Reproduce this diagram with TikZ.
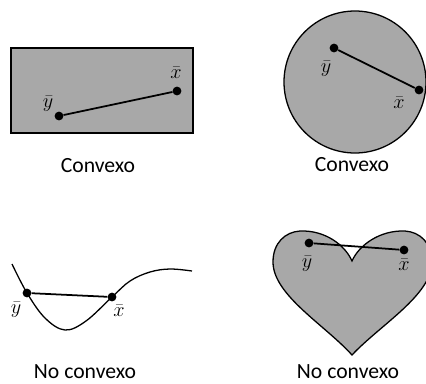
\documentclass[tikz,border=0pt]{standalone}
\usepackage{fontspec}
\setsansfont{Carlito}
\begin{document}
\begin{tikzpicture}[
  x=0.03cm, y=-0.03cm,
  region/.style={draw, fill=black!34, line width=1.1pt},
  dot/.style={circle, fill=black, inner sep=0pt, minimum size=7.5pt},
  chord/.style={line width=1.5pt},
  pointlabel/.style={font=\fontsize{17}{19}\selectfont},
  caption/.style={font=\sffamily\fontsize{18.5}{20}\selectfont}
]
  \useasboundingbox (0,0) rectangle (426,383);

  % rectangle
  \draw[region] (11,48) rectangle (193,133);
  \node[dot] (yRect) at (59,116) {};
  \node[dot] (xRect) at (177,91) {};
  \node[pointlabel] (yRectLbl) at (48,104) {$\bar{y}$};
  \node[pointlabel] (xRectLbl) at (176,73) {$\bar{x}$};
  \node[caption] (capRect) at (98,166) {Convexo};

  % circle
  \draw[region] (355,82) circle (71);
  \node[dot] (yCirc) at (334,48) {};
  \node[dot] (xCirc) at (419,90) {};
  \node[pointlabel] (yCircLbl) at (326,69) {$\bar{y}$};
  \node[pointlabel] (xCircLbl) at (399,103) {$\bar{x}$};
  \node[caption] (capCirc) at (352,165) {Convexo};

  % curve
  \draw[line width=1.1pt] plot[smooth, tension=0.6] coordinates
    {(12,264) (27,293) (45,318) (65,330) (86,321) (112,297) (130,281) (150,272) (170,269) (192,271)};
  \node[dot] (yCurve) at (27,293) {};
  \node[dot] (xCurve) at (112,297) {};
  \node[pointlabel] (yCurveLbl) at (16,310) {$\bar{y}$};
  \node[pointlabel] (xCurveLbl) at (119,311) {$\bar{x}$};
  \node[caption] (capCurve) at (85,372) {No convexo};

  % heart
  \draw[region] (352,355)
    .. controls (325,325) and (273,295) .. (273,262)
    .. controls (273,243) and (285,232) .. (300,231)
    .. controls (325,230) and (345,245) .. (352,261)
    .. controls (359,245) and (380,230) .. (405,231)
    .. controls (420,232) and (432,243) .. (432,262)
    .. controls (432,295) and (380,325) .. (352,355) -- cycle;
  \node[dot] (yHeart) at (309,243) {};
  \node[dot] (xHeart) at (404,250) {};
  \node[pointlabel] (yHeartLbl) at (307,264) {$\bar{y}$};
  \node[pointlabel] (xHeartLbl) at (404,265) {$\bar{x}$};
  \node[caption] (capHeart) at (348,372) {No convexo};

  % chords
  \draw[chord] (yRect) -- (xRect);
  \draw[chord] (yCirc) -- (xCirc);
  \draw[chord] (yCurve) -- (xCurve);
  \draw[chord] (yHeart) -- (xHeart);
\end{tikzpicture}
\end{document}
